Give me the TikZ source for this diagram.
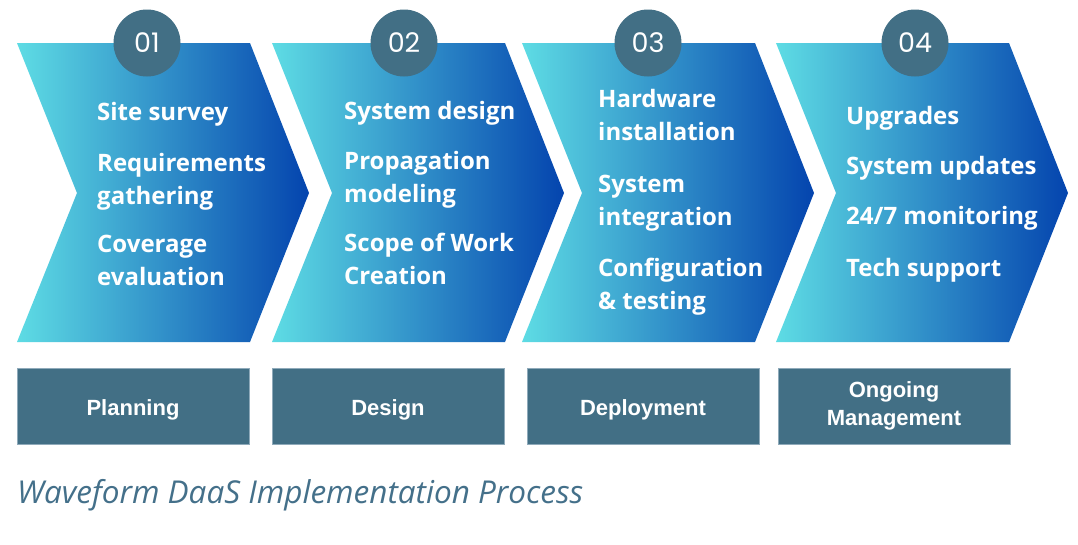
\documentclass[tikz,border=0pt]{standalone}
\usepackage{fontspec}
\setmainfont{Open Sans}
\newfontfamily\boxfont{Liberation Sans}
\newfontfamily\numfont{Poppins}
\newfontfamily\capfont{Open Sans}
\definecolor{slate}{HTML}{426F85}
\definecolor{slateedge}{HTML}{8FAABA}
\definecolor{cyanL}{HTML}{5EDCE4}
\definecolor{blueR}{HTML}{0444AE}
\definecolor{capcol}{HTML}{44708A}
\tikzset{
  itemtxt/.style={anchor=base west, inner sep=0pt, text=white, align=left,
    font=\fontsize{24}{32.5}\selectfont\bfseries},
  numcirc/.style={circle, fill=slate, minimum size=67pt, inner sep=0pt, text=white,
    font=\numfont\fontsize{27}{27}\selectfont},
  stagebox/.style={rectangle, fill=slate, draw=slateedge, line width=0.8pt,
    minimum width=232pt, minimum height=76pt, inner sep=0pt, text=white, align=center,
    font=\boxfont\fontsize{22}{28.5}\selectfont\bfseries},
  oneline/.style={text height=19pt, text depth=1pt},
}
\newcommand{\chevronshape}[1]{%
  \shade[left color=cyanL, right color=blueR]
    (#1,43) -- ({#1+233},43) -- ({#1+292},193) -- ({#1+233},342) -- (#1,342) -- ({#1+60},193) -- cycle;}
\begin{document}
\begin{tikzpicture}[x=1pt,y=-1pt]
\useasboundingbox (0,0) rectangle (1078,544);
\fill[white] (0,0) rectangle (1078,544);
% chevrons
\chevronshape{17}
\chevronshape{272}
\chevronshape{522}
\chevronshape{776}
% number circles
\node[numcirc] (n1) at (147,43) {01};
\node[numcirc] (n2) at (404,43) {02};
\node[numcirc] (n3) at (648,43) {03};
\node[numcirc] (n4) at (915,43) {04};
% chevron 1 items (multi-line nodes anchored at last baseline)
\node[itemtxt] (a1) at (97,120) {Site survey};
\node[itemtxt] (a2) at (97,204) {Requirements\\gathering};
\node[itemtxt] (a3) at (97,285) {Coverage\\evaluation};
% chevron 2 items
\node[itemtxt] (b1) at (344,119) {System design};
\node[itemtxt] (b2) at (344,202) {Propagation\\modeling};
\node[itemtxt] (b3) at (344,284) {Scope of Work\\Creation};
% chevron 3 items
\node[itemtxt] (c1) at (598,140) {Hardware\\installation};
\node[itemtxt] (c2) at (598,225) {System\\integration};
\node[itemtxt] (c3) at (598,309) {Configuration\\\& testing};
% chevron 4 items
\node[itemtxt] (d1) at (846,124) {Upgrades};
\node[itemtxt] (d2) at (846,174) {System updates};
\node[itemtxt] (d3) at (846,224) {24/7 monitoring};
\node[itemtxt] (d4) at (846,276) {Tech support};
% stage boxes
\node[stagebox, oneline] (s1) at (133,406) {Planning};
\node[stagebox, oneline] (s2) at (388,406) {Design};
\node[stagebox, oneline] (s3) at (643,406) {Deployment};
\node[stagebox] (s4) at (894,406) {\rule{0pt}{2pt}Ongoing\\Management};
% caption
\node[anchor=base west, inner sep=0pt, text=capcol, font=\capfont\itshape\fontsize{31.5}{31.5}\selectfont] (cap) at (17,503) {Waveform DaaS Implementation Process};
\end{tikzpicture}
\end{document}
